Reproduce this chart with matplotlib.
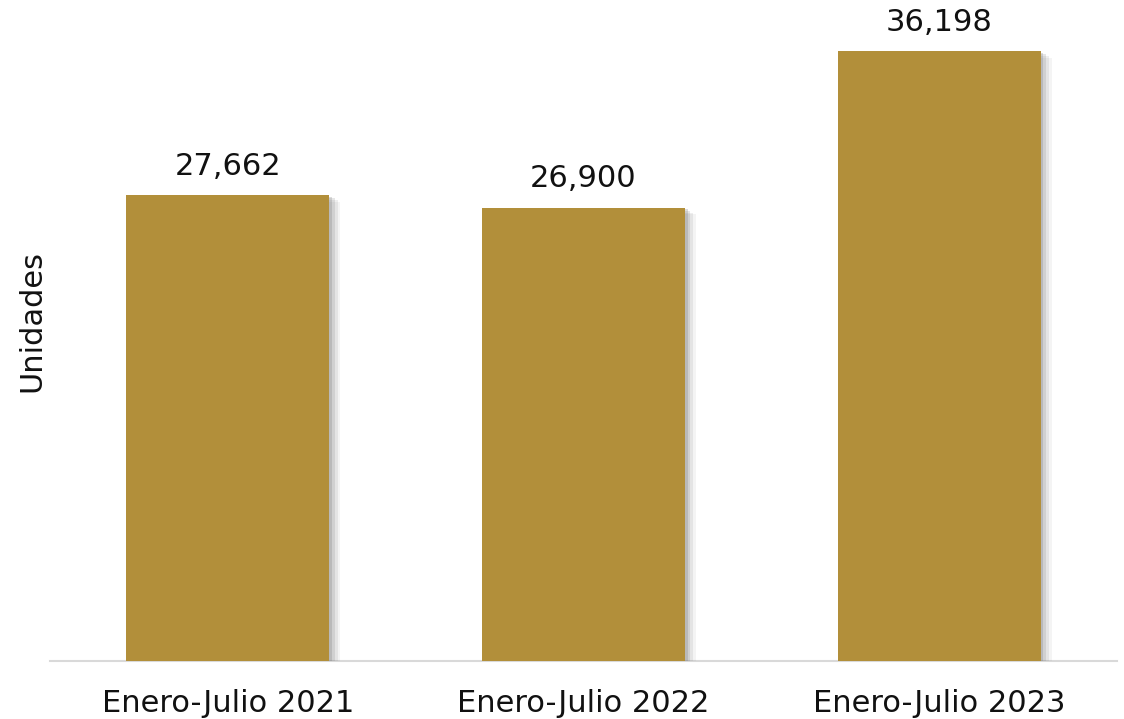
import matplotlib
matplotlib.use("Agg")
import matplotlib.pyplot as plt
import matplotlib.patheffects as pe

categories = ["Enero-Julio 2021", "Enero-Julio 2022", "Enero-Julio 2023"]
values = [27662, 26900, 36198]
labels = ["27,662", "26,900", "36,198"]

plt.rcParams['font.family'] = ['DejaVu Sans']

fig = plt.figure(figsize=(11.24, 7.19), dpi=100)
ax = fig.add_axes([50/1124, (719-661)/719, 1067/1124, 661/719])

bars = ax.bar(range(len(categories)), values, width=0.57, color="#B28F3A", zorder=3)
shadow = [pe.SimplePatchShadow(offset=(o, -o * 0.6), shadow_rgbFace="#777777", alpha=a)
          for o, a in [(8, 0.08), (6, 0.12), (4, 0.18), (2, 0.25)]]
for b in bars:
    b.set_path_effects(shadow + [pe.Normal()])

for i, (v, t) in enumerate(zip(values, labels)):
    ax.text(i, v + 850, t, ha="center", va="bottom", fontsize=22, color="#111111")

ax.set_xlim(-0.5, 2.5)
ax.set_ylim(0, 39230)
ax.set_xticks(range(len(categories)))
ax.set_xticklabels(categories, fontsize=22, color="#111111")
ax.tick_params(axis="x", length=0, pad=20)
ax.set_yticks([])
for s in ["top", "right", "left"]:
    ax.spines[s].set_visible(False)
ax.spines["bottom"].set_color("#D9D9D9")
ax.spines["bottom"].set_linewidth(1.5)
ax.set_ylabel("Unidades", fontsize=22, color="#111111")
ax.yaxis.set_label_coords(-4/1067, 0.515)

fig.savefig("out.png", dpi=100)
